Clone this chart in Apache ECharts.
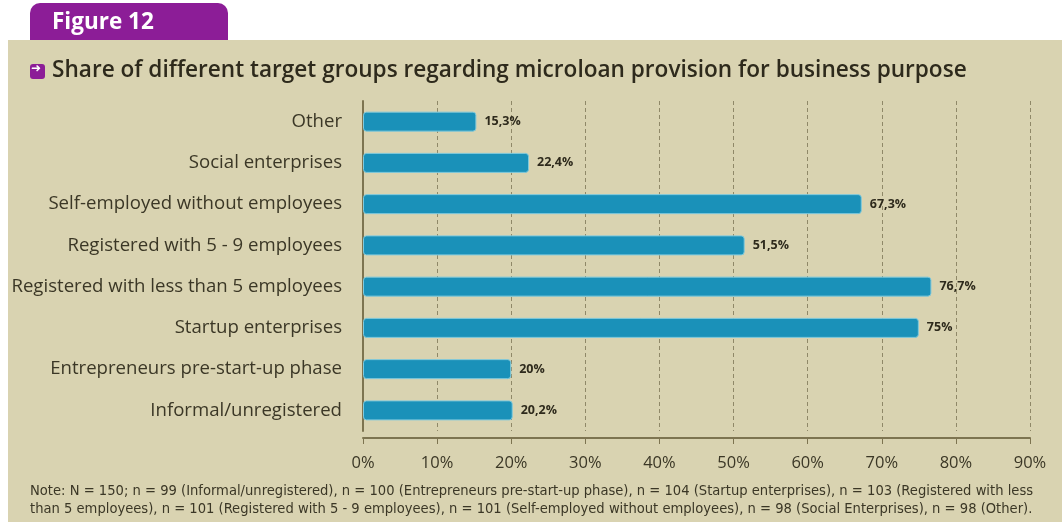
<!DOCTYPE html>
<html>
<head>
<meta charset="utf-8">
<script src="https://cdn.jsdelivr.net/npm/echarts@6/dist/echarts.min.js"></script>
<style>
html,body{margin:0;padding:0;background:#fff;}
#main{width:1062px;height:529px;}
</style>
</head>
<body>
<div id="main"></div>
<script>
var categories = [
  'Informal/unregistered',
  'Entrepreneurs pre-start-up phase',
  'Startup enterprises',
  'Registered with less than 5 employees',
  'Registered with 5 - 9 employees',
  'Self-employed without employees',
  'Social enterprises',
  'Other'
];
var shares = [20.2, 20, 75, 76.7, 51.5, 67.3, 22.4, 15.3];
var tickValues = [0, 10, 20, 30, 40, 50, 60, 70, 80, 90];

var figureLabel = 'Figure 12';
var chartTitle = 'Share of different target groups regarding microloan provision for business purpose';
var noteText = 'Note: N = 150; n = 99 (Informal/unregistered), n = 100 (Entrepreneurs pre-start-up phase), n = 104 (Startup enterprises), n = 103 (Registered with less\nthan 5 employees), n = 101 (Registered with 5 - 9 employees), n = 101 (Self-employed without employees), n = 98 (Social Enterprises), n = 98 (Other).';

var chart = echarts.init(document.getElementById('main'));
var font = 'Open Sans';
var option = {
  backgroundColor: '#ffffff',
  animation: false,
  graphic: [
    { type: 'rect', z: -20, shape: { x: 30, y: 3, width: 198, height: 40, r: [10, 10, 0, 0] }, style: { fill: '#8c1d97' } },
    { type: 'rect', z: -10, shape: { x: 8, y: 40, width: 1054, height: 482 }, style: { fill: '#d9d3b1' } },
    { type: 'text', z: 2, left: 52, top: 11, style: { text: figureLabel, fill: '#ffffff', font: 'bold 22.5px "Open Sans"' } },
    { type: 'rect', z: 2, shape: { x: 30, y: 64, width: 15, height: 15, r: 3 }, style: { fill: '#8c1d97' } },
    { type: 'text', z: 3, left: 31, top: 63, style: { text: '➜', fill: '#ffffff', font: 'bold 12px "DejaVu Sans"' } },
    { type: 'text', z: 2, left: 52, top: 59, style: { text: chartTitle, fill: '#2e2a1c', font: '600 22.6px "Open Sans"' } },
    { type: 'text', z: 2, left: 30, top: 482, style: { text: noteText, fill: '#3b3726', font: '14.6px "DejaVu Sans Condensed"', lineHeight: 18 } }
  ],
  grid: { left: 363, right: 32, top: 101, bottom: 98, containLabel: false },
  xAxis: {
    type: 'value', min: 0, max: 90, interval: 10,
    offset: 7,
    axisLine: { show: true, lineStyle: { color: '#7d7450', width: 2 } },
    axisTick: { show: true, length: 6, lineStyle: { color: '#7d7450' } },
    axisLabel: { color: '#3b3726', fontSize: 16.5, fontFamily: font, margin: 17, formatter: function (v) { return tickValues.indexOf(v) >= 0 ? v + '%' : ''; } },
    splitLine: { show: true, lineStyle: { color: '#8f8868', type: [4, 3], width: 1 } }
  },
  yAxis: {
    type: 'category', data: categories,
    axisLine: { show: true, lineStyle: { color: '#7d7450', width: 2 } },
    axisTick: { show: false },
    axisLabel: { color: '#3b3726', fontSize: 18.6, fontFamily: font, margin: 21 }
  },
  series: [{
    type: 'bar', data: shares, barWidth: 20,
    itemStyle: { color: '#1a91b9', borderColor: '#7fc9dc', borderWidth: 1, borderRadius: 3 },
    label: {
      show: true, position: 'right', distance: 8,
      color: '#2e2a1c', fontWeight: 'bold', fontSize: 12.5, fontFamily: font,
      formatter: function (p) { return String(p.value).replace('.', ',') + '%'; }
    }
  }]
};
chart.setOption(option);
</script>
</body>
</html>
